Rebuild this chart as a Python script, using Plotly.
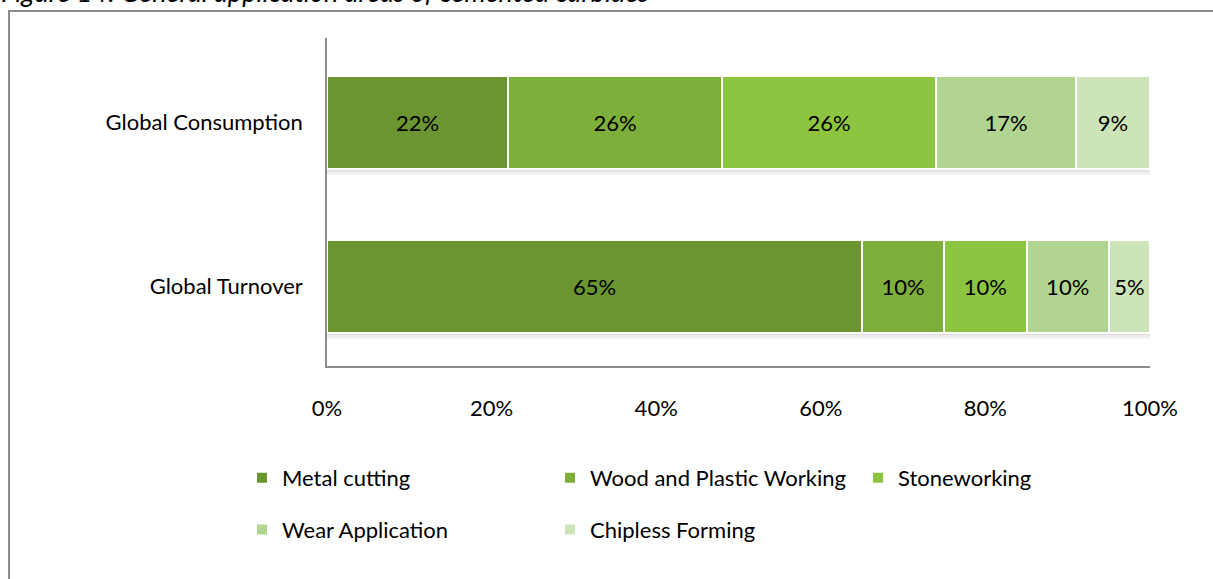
import plotly.graph_objects as go

# Share of global cemented carbide use by application area (%)
categories = ["Global Consumption", "Global Turnover"]
series_names = ["Metal cutting", "Wood and Plastic Working", "Stoneworking",
                "Wear Application", "Chipless Forming"]
metal_cutting = [22, 65]
wood_plastic = [26, 10]
stoneworking = [26, 10]
wear_application = [17, 10]
chipless_forming = [9, 5]
x_ticks = [0, 20, 40, 60, 80, 100]

series_values = [metal_cutting, wood_plastic, stoneworking, wear_application, chipless_forming]
colors = ["#6A9530", "#7DAF3A", "#8DC540", "#B1D591", "#CDE3B8"]
# column layout of the legend: each key goes to one of three legend boxes
legend_slot = ["legend", "legend2", "legend3", "legend", "legend2"]

FONT = "Lato"
FS = 22
W, H = 1213, 579
L, R, T, B = 327, 63, 38, 213
pw, ph = W - L - R, H - T - B


def px_x(px):
    return (px - L) / pw


def px_y(py):
    return (H - B - py) / ph


fig = go.Figure()
for name, vals, col, lg in zip(series_names, series_values, colors, legend_slot):
    fig.add_trace(go.Bar(
        y=categories, x=vals, name=name, orientation="h",
        marker=dict(color=col, line=dict(color="white", width=2)),
        width=0.57,
        text=[f"{v}%" for v in vals], textposition="inside",
        insidetextanchor="middle", textangle=0, constraintext="none",
        textfont=dict(family=FONT, size=FS, color="#000000"),
        legend=lg, legendgroup=name, hoverinfo="skip",
    ))

# soft drop shadow under each stacked bar
shapes = []
for i, cat in enumerate(categories):
    total = sum(s[i] for s in series_values)
    for k, a in enumerate([0.13, 0.08, 0.04]):
        shapes.append(dict(type="rect", xref="x", yref="y", layer="below",
                           x0=0, x1=total, y0=i + 0.285 + k * 0.012, y1=i + 0.285 + (k + 1) * 0.012,
                           fillcolor=f"rgba(0,0,0,{a})", line=dict(width=0)))
# outer frame of the figure box
shapes.append(dict(type="rect", xref="paper", yref="paper",
                   x0=px_x(9), x1=px_x(W + 20), y0=px_y(H + 20), y1=px_y(11),
                   line=dict(color="#8C8C8C", width=2), fillcolor="rgba(0,0,0,0)", layer="below"))

legend_common = dict(
    orientation="v", xanchor="left", yanchor="top", bgcolor="rgba(0,0,0,0)",
    font=dict(family=FONT, size=FS, color="#000000"), tracegroupgap=20,
    traceorder="grouped", itemclick=False, itemdoubleclick=False,
)

fig.update_layout(
    width=W, height=H,
    margin=dict(l=L, r=R, t=T, b=B),
    paper_bgcolor="white", plot_bgcolor="white",
    barmode="stack",
    font=dict(family=FONT, size=FS, color="#000000"),
    xaxis=dict(range=[0, 100], tickvals=x_ticks, ticktext=[f"{v}%" for v in x_ticks],
               showgrid=False, zeroline=False, showline=True, linecolor="#8C8C8C",
               linewidth=1.5, ticks="", ticklabelstandoff=22,
               tickfont=dict(family=FONT, size=FS, color="#000000")),
    yaxis=dict(categoryorder="array", categoryarray=categories,
               range=[1.486, -0.514], showgrid=False, zeroline=False, showline=True,
               linecolor="#8C8C8C", linewidth=1.5, ticks="", ticklabelstandoff=18,
               tickfont=dict(family=FONT, size=FS, color="#000000")),
    legend=dict(x=px_x(242), y=px_y(457), **legend_common),
    legend2=dict(x=px_x(550), y=px_y(457), **legend_common),
    legend3=dict(x=px_x(858), y=px_y(457), **legend_common),
    shapes=shapes,
    annotations=[dict(
        text="Figure 14: General application areas of cemented carbides",
        xref="paper", yref="paper", x=px_x(-1), y=px_y(10),
        xanchor="left", yanchor="bottom", showarrow=False,
        font=dict(family=FONT, size=27, color="#000000", style="italic"),
    )],
)

fig.write_html("out.html")
